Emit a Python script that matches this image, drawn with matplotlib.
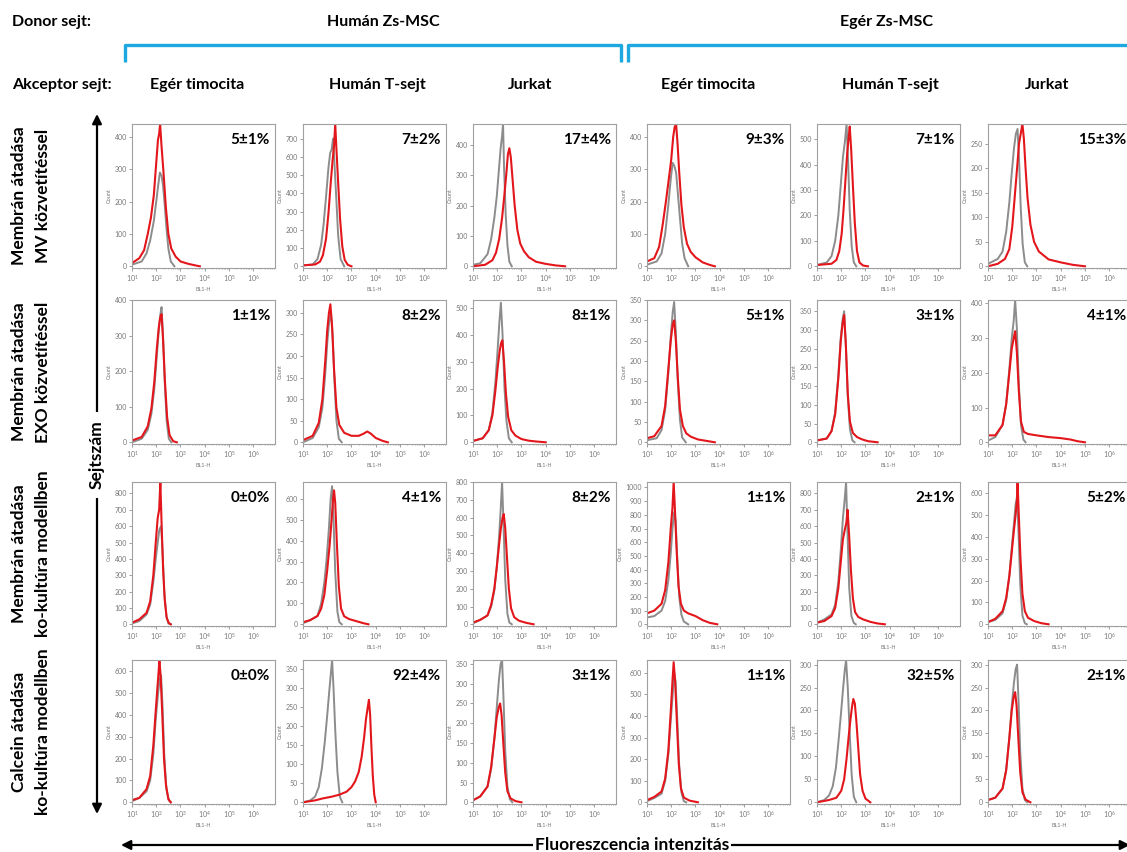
import numpy as np
import matplotlib
matplotlib.use("Agg")
import matplotlib.pyplot as plt
from matplotlib.ticker import LogLocator, MultipleLocator, NullFormatter

plt.rcParams['font.family'] = ['Lato', 'DejaVu Sans']

# ---- data: (log10 fluorescence, count) knots ----
COLUMNS = ['Egér timocita', 'Humán T-sejt', 'Jurkat', 'Egér timocita', 'Humán T-sejt', 'Jurkat']
DONORS = ['Humán Zs-MSC', 'Egér Zs-MSC']
ROW_LABELS = [('Membrán átadása', 'MV közvetítéssel'),
              ('Membrán átadása', 'EXO közvetítéssel'),
              ('Membrán átadása', 'ko-kultúra modellben'),
              ('Calcein átadása', 'ko-kultúra modellben')]

# percentages shown in each panel
PCT_MV = ['5±1%', '7±2%', '17±4%', '9±3%', '7±1%', '15±3%']
PCT_EXO = ['1±1%', '8±2%', '8±1%', '5±1%', '3±1%', '4±1%']
PCT_KO = ['0±0%', '4±1%', '8±2%', '1±1%', '2±1%', '5±2%']
PCT_CAL = ['0±0%', '92±4%', '3±1%', '1±1%', '32±5%', '2±1%']

# y-axis maxima and tick steps
YMAX_MV = [440, 780, 470, 440, 560, 290]
YMAX_EXO = [400, 330, 530, 350, 380, 410]
YMAX_KO = [870, 680, 800, 1040, 870, 650]
YMAX_CAL = [650, 375, 360, 660, 310, 310]
YSTEP_MV = [100, 100, 100, 100, 100, 50]
YSTEP_EXO = [100, 50, 100, 50, 50, 100]
YSTEP_KO = [100, 100, 100, 100, 100, 100]
YSTEP_CAL = [100, 50, 50, 100, 50, 50]

# control (gray) histograms
MV_GRAY = [
    [(1.0, 5), (1.4, 15), (1.6, 40), (1.75, 80), (1.9, 140), (2.0, 200), (2.08, 250), (2.15, 290), (2.22, 280), (2.28, 250), (2.35, 190), (2.42, 120), (2.5, 55), (2.6, 15), (2.75, 0)],
    [(1.0, 5), (1.4, 10), (1.6, 40), (1.75, 120), (1.85, 230), (1.95, 380), (2.05, 540), (2.12, 620), (2.18, 640), (2.24, 700), (2.3, 560), (2.37, 380), (2.45, 170), (2.55, 40), (2.7, 0)],
    [(1.0, 5), (1.3, 10), (1.6, 40), (1.75, 90), (1.88, 160), (1.98, 230), (2.07, 320), (2.14, 390), (2.2, 430), (2.24, 470), (2.28, 330), (2.35, 170), (2.42, 70), (2.5, 15), (2.6, 0)],
    [(1.0, 5), (1.4, 15), (1.6, 40), (1.75, 100), (1.88, 190), (1.98, 270), (2.06, 320), (2.13, 310), (2.2, 290), (2.28, 220), (2.37, 140), (2.45, 70), (2.55, 25), (2.7, 0)],
    [(1.0, 5), (1.4, 15), (1.6, 40), (1.75, 100), (1.88, 200), (1.98, 320), (2.07, 430), (2.15, 490), (2.22, 560), (2.28, 420), (2.35, 220), (2.43, 80), (2.52, 15), (2.62, 0)],
    [(1.0, 5), (1.4, 15), (1.6, 30), (1.75, 70), (1.88, 130), (1.98, 190), (2.07, 240), (2.15, 270), (2.22, 280), (2.28, 220), (2.35, 120), (2.43, 45), (2.52, 8), (2.62, 0)],
]
EXO_GRAY = [
    [(1.0, 0), (1.4, 10), (1.65, 35), (1.8, 80), (1.92, 150), (2.02, 240), (2.1, 310), (2.17, 360), (2.22, 380), (2.28, 300), (2.35, 170), (2.43, 60), (2.52, 10), (2.62, 0)],
    [(1.0, 0), (1.4, 10), (1.65, 35), (1.8, 80), (1.92, 160), (2.0, 230), (2.08, 280), (2.15, 300), (2.22, 250), (2.3, 140), (2.38, 50), (2.48, 8), (2.6, 0)],
    [(1.0, 5), (1.4, 15), (1.65, 45), (1.8, 110), (1.92, 220), (2.02, 350), (2.09, 450), (2.15, 520), (2.22, 400), (2.3, 200), (2.38, 80), (2.48, 15), (2.6, 0)],
    [(1.0, 5), (1.4, 10), (1.6, 30), (1.75, 80), (1.88, 170), (1.98, 260), (2.06, 320), (2.12, 345), (2.19, 270), (2.27, 150), (2.36, 55), (2.45, 12), (2.6, 0)],
    [(1.0, 5), (1.4, 10), (1.6, 30), (1.75, 80), (1.88, 180), (1.98, 280), (2.06, 330), (2.12, 350), (2.19, 260), (2.27, 120), (2.36, 35), (2.46, 5), (2.55, 0)],
    [(1.0, 5), (1.3, 15), (1.6, 50), (1.75, 110), (1.88, 210), (1.98, 300), (2.06, 350), (2.12, 410), (2.19, 330), (2.27, 170), (2.36, 50), (2.46, 8), (2.55, 0)],
]
KO_GRAY = [
    [(1.0, 5), (1.3, 20), (1.6, 60), (1.75, 120), (1.88, 260), (1.98, 400), (2.06, 500), (2.13, 580), (2.2, 600), (2.26, 450), (2.33, 200), (2.42, 50), (2.5, 5), (2.6, 0)],
    [(1.0, 5), (1.3, 20), (1.6, 40), (1.75, 100), (1.88, 200), (1.98, 320), (2.07, 460), (2.14, 600), (2.2, 660), (2.26, 500), (2.33, 250), (2.42, 60), (2.5, 10), (2.6, 0)],
    [(1.0, 5), (1.3, 25), (1.6, 50), (1.75, 100), (1.88, 190), (1.98, 320), (2.07, 480), (2.14, 640), (2.2, 800), (2.26, 560), (2.33, 250), (2.42, 60), (2.5, 10), (2.6, 0)],
    [(1.0, 50), (1.3, 60), (1.6, 100), (1.75, 170), (1.88, 320), (1.98, 520), (2.05, 700), (2.12, 820), (2.18, 760), (2.25, 480), (2.33, 200), (2.42, 70), (2.52, 20), (2.7, 0)],
    [(1.0, 10), (1.3, 30), (1.6, 60), (1.75, 120), (1.88, 260), (1.98, 450), (2.07, 650), (2.14, 760), (2.2, 870), (2.26, 550), (2.33, 220), (2.42, 50), (2.52, 8), (2.6, 0)],
    [(1.0, 10), (1.3, 20), (1.6, 50), (1.75, 110), (1.88, 220), (1.98, 350), (2.07, 460), (2.14, 550), (2.2, 580), (2.26, 420), (2.33, 180), (2.42, 40), (2.52, 5), (2.6, 0)],
]
CAL_GRAY = [
    [(1.0, 5), (1.3, 20), (1.6, 50), (1.75, 100), (1.88, 220), (1.98, 380), (2.07, 490), (2.14, 560), (2.2, 580), (2.26, 440), (2.33, 220), (2.42, 60), (2.52, 8), (2.6, 0)],
    [(1.0, 0), (1.3, 5), (1.5, 15), (1.65, 40), (1.78, 90), (1.9, 160), (2.0, 230), (2.08, 290), (2.15, 340), (2.2, 375), (2.26, 300), (2.33, 190), (2.42, 80), (2.52, 15), (2.62, 0)],
    [(1.0, 5), (1.3, 15), (1.6, 40), (1.75, 85), (1.88, 160), (1.98, 240), (2.07, 310), (2.14, 350), (2.2, 360), (2.26, 260), (2.33, 130), (2.42, 40), (2.52, 8), (2.62, 0)],
    [(1.0, 5), (1.3, 20), (1.6, 40), (1.75, 100), (1.88, 220), (1.98, 380), (2.06, 500), (2.12, 600), (2.18, 560), (2.25, 380), (2.33, 170), (2.42, 45), (2.52, 5), (2.62, 0)],
    [(1.0, 0), (1.3, 5), (1.5, 15), (1.65, 35), (1.78, 75), (1.9, 140), (2.0, 200), (2.08, 250), (2.15, 290), (2.2, 310), (2.27, 250), (2.35, 150), (2.43, 60), (2.52, 12), (2.62, 0)],
    [(1.0, 5), (1.3, 10), (1.6, 30), (1.75, 70), (1.88, 140), (1.98, 210), (2.07, 260), (2.14, 290), (2.2, 300), (2.26, 220), (2.33, 110), (2.42, 30), (2.52, 5), (2.62, 0)],
]

# treated (red) histograms
MV_RED = [
    [(1.0, 10), (1.3, 25), (1.5, 50), (1.65, 100), (1.78, 150), (1.9, 220), (2.0, 320), (2.07, 390), (2.12, 410), (2.16, 440), (2.22, 370), (2.3, 290), (2.4, 180), (2.5, 100), (2.62, 55), (2.8, 30), (3.0, 15), (3.3, 8), (3.6, 3), (3.8, 0)],
    [(1.0, 5), (1.5, 10), (1.7, 25), (1.82, 60), (1.95, 150), (2.05, 290), (2.14, 450), (2.22, 580), (2.28, 660), (2.33, 780), (2.38, 640), (2.45, 460), (2.53, 260), (2.62, 110), (2.72, 35), (2.85, 8), (3.0, 0)],
    [(1.0, 0), (1.5, 5), (1.8, 20), (1.95, 45), (2.08, 90), (2.2, 160), (2.3, 240), (2.38, 310), (2.44, 370), (2.5, 390), (2.56, 360), (2.63, 290), (2.72, 200), (2.83, 120), (2.95, 75), (3.1, 50), (3.3, 30), (3.6, 15), (4.0, 8), (4.4, 3), (4.8, 0)],
    [(1.0, 15), (1.3, 25), (1.5, 60), (1.65, 130), (1.78, 200), (1.9, 270), (2.0, 330), (2.08, 400), (2.14, 430), (2.2, 440), (2.26, 380), (2.33, 290), (2.42, 190), (2.52, 120), (2.65, 70), (2.8, 45), (3.0, 28), (3.3, 12), (3.6, 4), (3.8, 0)],
    [(1.0, 5), (1.6, 10), (1.8, 25), (1.92, 60), (2.02, 130), (2.1, 230), (2.18, 350), (2.25, 450), (2.3, 500), (2.35, 550), (2.41, 460), (2.48, 320), (2.56, 170), (2.65, 60), (2.75, 15), (2.9, 3), (3.1, 0)],
    [(1.0, 0), (1.4, 5), (1.7, 15), (1.88, 35), (2.0, 80), (2.1, 140), (2.2, 200), (2.28, 250), (2.35, 270), (2.42, 290), (2.48, 260), (2.55, 200), (2.63, 140), (2.75, 85), (2.9, 50), (3.1, 30), (3.5, 14), (4.0, 8), (4.5, 3), (5.0, 0)],
]
EXO_RED = [
    [(1.0, 5), (1.4, 15), (1.65, 45), (1.8, 95), (1.92, 170), (2.02, 260), (2.1, 320), (2.16, 350), (2.22, 360), (2.28, 290), (2.36, 170), (2.45, 70), (2.55, 20), (2.7, 3), (2.85, 0)],
    [(1.0, 5), (1.4, 15), (1.65, 45), (1.8, 100), (1.92, 190), (2.0, 260), (2.07, 300), (2.13, 320), (2.2, 270), (2.28, 170), (2.38, 80), (2.5, 40), (2.7, 22), (3.0, 15), (3.3, 15), (3.5, 20), (3.65, 25), (3.8, 20), (4.0, 10), (4.3, 3), (4.5, 0)],
    [(1.0, 5), (1.4, 15), (1.65, 45), (1.8, 100), (1.92, 190), (2.02, 280), (2.1, 340), (2.16, 370), (2.21, 380), (2.28, 300), (2.36, 180), (2.45, 95), (2.58, 45), (2.75, 25), (3.0, 12), (3.3, 6), (3.6, 3), (4.0, 0)],
    [(1.0, 10), (1.3, 15), (1.6, 40), (1.75, 90), (1.88, 180), (1.98, 250), (2.06, 290), (2.12, 300), (2.19, 250), (2.27, 160), (2.36, 80), (2.48, 40), (2.62, 22), (2.8, 14), (3.1, 7), (3.5, 3), (3.8, 0)],
    [(1.0, 5), (1.4, 10), (1.6, 30), (1.75, 75), (1.88, 170), (1.98, 270), (2.06, 320), (2.12, 340), (2.19, 260), (2.27, 130), (2.36, 55), (2.48, 25), (2.65, 14), (2.85, 8), (3.1, 3), (3.5, 0)],
    [(1.0, 20), (1.3, 20), (1.6, 50), (1.75, 110), (1.88, 200), (1.98, 270), (2.06, 300), (2.12, 320), (2.19, 260), (2.27, 150), (2.36, 60), (2.48, 30), (2.65, 24), (3.0, 20), (3.5, 15), (4.0, 12), (4.4, 8), (4.7, 3), (5.0, 0)],
]
KO_RED = [
    [(1.0, 10), (1.3, 30), (1.6, 70), (1.75, 140), (1.88, 300), (1.98, 500), (2.06, 650), (2.12, 700), (2.17, 870), (2.22, 620), (2.28, 350), (2.35, 150), (2.43, 40), (2.52, 8), (2.6, 0)],
    [(1.0, 10), (1.3, 20), (1.6, 40), (1.75, 75), (1.88, 140), (2.0, 260), (2.1, 380), (2.18, 500), (2.24, 600), (2.28, 640), (2.33, 580), (2.4, 380), (2.48, 180), (2.57, 75), (2.7, 38), (2.9, 25), (3.2, 15), (3.5, 5), (3.7, 0)],
    [(1.0, 10), (1.3, 25), (1.6, 50), (1.75, 110), (1.88, 200), (1.98, 320), (2.07, 440), (2.15, 540), (2.22, 600), (2.27, 620), (2.33, 540), (2.4, 380), (2.48, 200), (2.57, 90), (2.7, 40), (2.9, 20), (3.2, 8), (3.5, 0)],
    [(1.0, 80), (1.3, 100), (1.6, 150), (1.75, 250), (1.88, 450), (1.98, 700), (2.05, 850), (2.1, 1040), (2.15, 850), (2.22, 550), (2.3, 280), (2.4, 150), (2.52, 100), (2.7, 80), (3.0, 60), (3.3, 30), (3.6, 10), (3.9, 0)],
    [(1.0, 10), (1.3, 20), (1.6, 50), (1.75, 100), (1.88, 220), (1.98, 380), (2.07, 520), (2.15, 580), (2.21, 620), (2.26, 700), (2.32, 560), (2.4, 330), (2.48, 160), (2.57, 75), (2.7, 45), (2.9, 30), (3.2, 15), (3.5, 5), (3.8, 0)],
    [(1.0, 10), (1.3, 25), (1.6, 60), (1.75, 120), (1.88, 220), (1.98, 330), (2.07, 430), (2.14, 500), (2.19, 560), (2.22, 650), (2.27, 500), (2.34, 300), (2.42, 140), (2.52, 60), (2.65, 30), (2.9, 15), (3.2, 5), (3.5, 0)],
]
CAL_RED = [
    [(1.0, 10), (1.3, 20), (1.6, 60), (1.75, 120), (1.88, 260), (1.98, 420), (2.06, 540), (2.1, 600), (2.13, 650), (2.18, 580), (2.25, 400), (2.32, 200), (2.4, 80), (2.5, 15), (2.6, 0)],
    [(1.0, 0), (1.5, 5), (1.8, 10), (2.2, 15), (2.5, 20), (2.8, 28), (3.0, 40), (3.15, 55), (3.3, 80), (3.42, 120), (3.52, 170), (3.6, 220), (3.67, 250), (3.72, 270), (3.77, 230), (3.82, 150), (3.88, 70), (3.94, 20), (4.0, 0)],
    [(1.0, 5), (1.3, 15), (1.6, 40), (1.75, 90), (1.88, 160), (1.98, 215), (2.06, 240), (2.12, 250), (2.18, 220), (2.25, 150), (2.33, 75), (2.42, 28), (2.55, 10), (2.75, 3), (3.0, 0)],
    [(1.0, 10), (1.3, 25), (1.6, 50), (1.75, 110), (1.88, 240), (1.98, 420), (2.05, 560), (2.1, 650), (2.16, 560), (2.23, 380), (2.31, 180), (2.4, 65), (2.52, 22), (2.75, 8), (3.1, 0)],
    [(1.0, 0), (1.5, 5), (1.8, 10), (2.0, 25), (2.12, 50), (2.22, 95), (2.3, 140), (2.38, 180), (2.45, 210), (2.5, 225), (2.56, 215), (2.62, 180), (2.7, 120), (2.78, 60), (2.88, 25), (3.0, 8), (3.2, 0)],
    [(1.0, 5), (1.3, 10), (1.6, 30), (1.75, 70), (1.88, 140), (1.98, 200), (2.06, 230), (2.12, 240), (2.18, 210), (2.25, 140), (2.33, 65), (2.42, 22), (2.55, 6), (2.75, 0)],
]

GRAY = [MV_GRAY, EXO_GRAY, KO_GRAY, CAL_GRAY]
RED = [MV_RED, EXO_RED, KO_RED, CAL_RED]
PCT = [PCT_MV, PCT_EXO, PCT_KO, PCT_CAL]
YMAX = [YMAX_MV, YMAX_EXO, YMAX_KO, YMAX_CAL]
YSTEP = [YSTEP_MV, YSTEP_EXO, YSTEP_KO, YSTEP_CAL]

# ---- layout (pixels) ----
W, H = 1127, 852
fig = plt.figure(figsize=(W / 100, H / 100), dpi=100)

col_left = [132, 303, 473, 647, 817, 988]
row_top = [124, 300, 482, 660]
pw, ph = 143, 144

def frac(x, y, w, h):
    return [x / W, 1 - (y + h) / H, w / W, h / H]

# overlay in pixel coordinates for headers, arrows and brackets
ov = fig.add_axes([0, 0, 1, 1], zorder=-1)
ov.set_xlim(0, W)
ov.set_ylim(H, 0)
ov.axis('off')

bold = dict(fontweight='bold', color='black')
ov.text(12, 22, 'Donor sejt:', fontsize=11.5, va='center', ha='left', **bold)
ov.text(383, 22, DONORS[0], fontsize=11.5, va='center', ha='center', **bold)
ov.text(887, 22, DONORS[1], fontsize=11.5, va='center', ha='center', **bold)
ov.text(12, 85, 'Akceptor sejt:', fontsize=11.5, va='center', ha='left', **bold)
for cx, lab in zip([197, 377, 530, 708, 890, 1047], COLUMNS):
    ov.text(cx, 85, lab, fontsize=11.5, va='center', ha='center', **bold)

cyan = '#1ea8e0'
ov.plot([125, 125, 621, 621], [62, 45, 45, 62], color=cyan, lw=2.4, solid_capstyle='butt')
ov.plot([628, 628, 1140], [62, 45, 45], color=cyan, lw=2.4, solid_capstyle='butt')

for r, (l1, l2) in enumerate(ROW_LABELS):
    cy = row_top[r] + ph / 2
    ov.text(19, cy, l1, rotation=90, fontsize=12.5, va='center', ha='center', **bold)
    ov.text(43, cy, l2, rotation=90, fontsize=12.5, va='center', ha='center', **bold)

ov.annotate('', xy=(97, 114), xytext=(97, 814),
            arrowprops=dict(arrowstyle='<|-|>', color='black', lw=1.6,
                            mutation_scale=14, shrinkA=0, shrinkB=0))
ov.text(97, 455, 'Sejtszám', rotation=90, fontsize=12.5, va='center', ha='center',
        bbox=dict(fc='white', ec='none', pad=6), **bold)

ov.annotate('', xy=(121, 845), xytext=(1130, 845),
            arrowprops=dict(arrowstyle='<|-|>', color='black', lw=1.6,
                            mutation_scale=14, shrinkA=0, shrinkB=0))
ov.text(632, 845, 'Fluoreszcencia intenzitás', fontsize=12.5, va='center', ha='center',
        bbox=dict(fc='white', ec='none', pad=1), **bold)

# ---- histogram panels ----
tick_col = '#777777'
for r in range(4):
    for c in range(6):
        ax = fig.add_axes(frac(col_left[c], row_top[r], pw, ph))
        g = np.array(GRAY[r][c], dtype=float)
        rd = np.array(RED[r][c], dtype=float)
        ax.plot(10 ** g[:, 0], g[:, 1], color='#8c8c8c', lw=1.4)
        ax.plot(10 ** rd[:, 0], rd[:, 1], color='#e3161c', lw=1.5)
        ax.set_xscale('log')
        ax.set_xlim(10, 10 ** 6.9)
        ymax = YMAX[r][c]
        ax.set_ylim(-ymax * 0.012, ymax)
        ax.yaxis.set_major_locator(MultipleLocator(YSTEP[r][c]))
        ax.xaxis.set_major_locator(LogLocator(base=10, numticks=10))
        ax.xaxis.set_minor_formatter(NullFormatter())
        ax.tick_params(axis='both', which='major', labelsize=5, colors=tick_col,
                       length=2, width=0.5, pad=1.5)
        ax.tick_params(axis='both', which='minor', length=1, width=0.4, colors=tick_col)
        for sp in ax.spines.values():
            sp.set_color('#a0a0a0')
            sp.set_linewidth(0.8)
        ax.set_ylabel('Count', fontsize=4, color=tick_col, labelpad=2)
        ax.set_xlabel('BL1-H', fontsize=4, color=tick_col, labelpad=2)
        ax.text(0.965, 0.89, PCT[r][c], transform=ax.transAxes, ha='right', va='center',
                fontsize=11, **bold)

fig.savefig('out.png', dpi=100)
